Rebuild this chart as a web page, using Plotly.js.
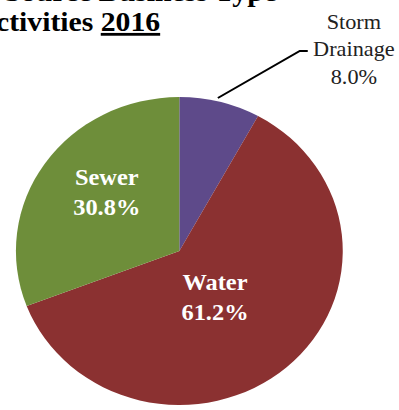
<!DOCTYPE html>
<html><head><meta charset="utf-8">
<script src="https://cdn.plot.ly/plotly-3.0.1.min.js"></script>
<style>
html,body{margin:0;padding:0;overflow:hidden;background:#fff;width:399px;height:410px}
#chart{width:376px;height:410px;transform:scaleX(1.0612);transform-origin:0 0;}
</style></head><body><div id="chart"></div>
<script>
// Data
const categories = ['Storm Drainage', 'Water', 'Sewer'];
const shares = [8.0, 61.2, 30.8];
const sliceColors = ['#5E4A8A', '#8B3131', '#6E8E3A'];
const titleLine1 = 'Revenue by Source Business Type';
const titleLine2 = 'Activities';
const titleYear = '2016';

const serif = 'Liberation Serif, Times New Roman, serif';

const trace = {
  type: 'pie',
  labels: categories,
  values: shares,
  sort: false,
  direction: 'clockwise',
  rotation: 0,
  marker: {colors: sliceColors, line: {width: 0}},
  textinfo: 'none',
  domain: {x: [0.0399, 0.859], y: [0.0122, 0.7634]},
  hoverinfo: 'none'
};

const labelText = i => categories[i] + '<br>' + shares[i].toFixed(1) + '%';
const stormLabel = categories[0].split(' ').join('<br>') + '<br>' + shares[0].toFixed(1) + '%';
const insideFont = {family: serif, size: 23, color: '#ffffff', weight: 'bold'};

const layout = {
  width: 376, height: 410,
  margin: {l: 0, r: 0, t: 0, b: 0},
  paper_bgcolor: '#ffffff',
  showlegend: false,
  annotations: [
    {xref: 'paper', yref: 'paper', x: 0.699, y: 1.0205, xanchor: 'right', yanchor: 'middle',
     text: titleLine1, showarrow: false,
     font: {family: serif, size: 28, color: '#000', weight: 'bold'}},
    {xref: 'paper', yref: 'paper', x: 0.406, y: 0.9465, xanchor: 'right', yanchor: 'middle',
     text: titleLine2 + ' <span style="text-decoration:underline">' + titleYear + '</span>', showarrow: false,
     font: {family: serif, size: 28, color: '#000', weight: 'bold'}},
    {xref: 'paper', yref: 'paper', x: 0.888, y: 0.879, xanchor: 'center', yanchor: 'middle',
     text: stormLabel, showarrow: false, align: 'center',
     font: {family: serif, size: 21, color: '#222'}},
    {xref: 'paper', yref: 'paper', x: 0.268, y: 0.531, xanchor: 'center', yanchor: 'middle',
     text: labelText(2), showarrow: false, align: 'center', font: insideFont},
    {xref: 'paper', yref: 'paper', x: 0.538, y: 0.2756, xanchor: 'center', yanchor: 'middle',
     text: labelText(1), showarrow: false, align: 'center', font: insideFont}
  ],
  shapes: [
    {type: 'path', xref: 'paper', yref: 'paper',
     path: 'M 0.7713 0.8756 L 0.7513 0.8756 L 0.546 0.761',
     line: {color: '#000', width: 2}}
  ]
};

Plotly.newPlot('chart', [trace], layout, {displayModeBar: false, staticPlot: true});
</script></body></html>
